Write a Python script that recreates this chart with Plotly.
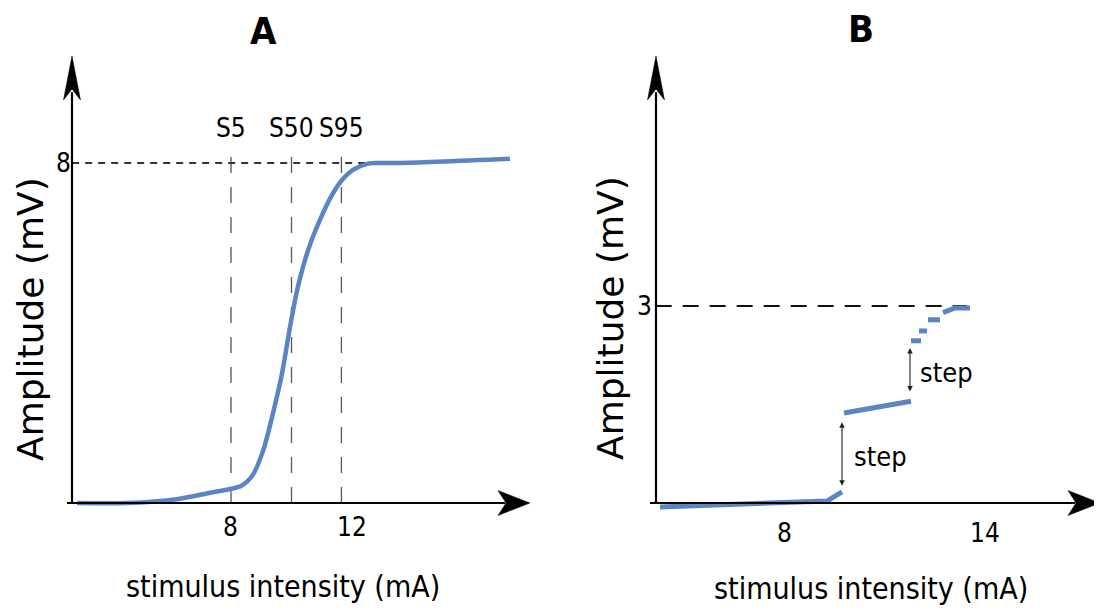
import plotly.graph_objects as go

# page is offset by the default 8px body margin
OFF = 8
W, H = 1102 - OFF, 610 - OFF

# ---------------- data ----------------
# Panel A: sigmoid recruitment curve
a_intensity = [2.91, 4.56, 6.21, 7.31, 7.97, 8.33, 8.72, 9.07, 9.39, 9.69, 9.95,
               10.21, 10.55, 10.94, 11.34, 11.67, 12.03, 12.50, 12.83, 13.59, 17.22]
a_amplitude = [0.0, 0.0, 0.09, 0.24, 0.33, 0.40, 0.66, 1.25, 2.12, 3.06, 4.14,
               5.08, 5.95, 6.66, 7.25, 7.60, 7.84, 7.98, 8.0, 8.0, 8.1]
a_markers = ["S5", "S50", "S95"]
a_marker_x = [8.0, 10.0, 11.65]
a_max = 8
a_xticks = [8, 12]

# Panel B: stepwise recruitment (segments separated by None)
b_intensity = [4.25, 9.26, 9.71, None,
               9.77, 11.78, None,
               11.78, 12.08, None,
               12.02, 12.26, None,
               12.29, 12.65, None,
               12.74, 13.10, 13.55]
b_amplitude = [-0.06, 0.03, 0.17, None,
               1.37, 1.55, None,
               2.47, 2.47, None,
               2.62, 2.62, None,
               2.79, 2.79, None,
               2.90, 2.97, 2.97]
b_max = 3
b_xticks = [8, 14]
b_steps_x = [9.71, 11.75]
b_steps_lo = [0.24, 1.675]
b_steps_hi = [1.23, 2.36]

# ---------------- geometry (page pixels) ----------------
A_X0PX, A_XSCALE = 231.0, 30.25   # px of x=8, px per unit
A_Y0PX, A_YSCALE = 503.0, 42.5    # px of y=0, px per unit
B_X0PX, B_XSCALE = 785.0, 200 / 6.0
B_Y0PX, B_YSCALE = 503.0, 197 / 3.0

A_XR = [2.75, 17.9]
A_YR = [-0.3, 10.5]
B_XR = [4.12, 17.45]
B_YR = [-0.2, 6.8]


def px(x):
    return (x - OFF) / W


def py(y):
    return 1 - (y - OFF) / H


def dom_x(x0px, scale, rng):
    return [px(x0px + (rng[0] - 8) * scale), px(x0px + (rng[1] - 8) * scale)]


def dom_y(y0px, scale, rng):
    return [py(y0px - rng[0] * scale), py(y0px - rng[1] * scale)]


BLUE = "#5A85C2"
FONT = "DejaVu Sans Condensed, DejaVu Sans, sans-serif"

fig = go.Figure()

# --- panel A reference lines ---
for xm in a_marker_x:
    fig.add_trace(go.Scatter(x=[xm, xm], y=[0, 8.42], mode="lines",
                             line=dict(color="#555555", width=1.3, dash="16px,14px"),
                             xaxis="x", yaxis="y", hoverinfo="skip", showlegend=False))
fig.add_trace(go.Scatter(x=[A_XR[0], 13.15], y=[a_max, a_max], mode="lines",
                         line=dict(color="#333333", width=1.8, dash="7px,6px"),
                         xaxis="x", yaxis="y", hoverinfo="skip", showlegend=False))
fig.add_trace(go.Scatter(x=a_intensity, y=a_amplitude, mode="lines",
                         line=dict(color=BLUE, width=4.5, shape="spline", smoothing=0.8),
                         xaxis="x", yaxis="y", showlegend=False))

# --- panel B ---
fig.add_trace(go.Scatter(x=[B_XR[0], 13.45], y=[b_max, b_max], mode="lines",
                         line=dict(color="#111111", width=2.2, dash="16px,11px"),
                         xaxis="x2", yaxis="y2", hoverinfo="skip", showlegend=False))
fig.add_trace(go.Scatter(x=b_intensity, y=b_amplitude, mode="lines", connectgaps=False,
                         line=dict(color=BLUE, width=5),
                         xaxis="x2", yaxis="y2", showlegend=False))

ax_common = dict(visible=False, fixedrange=True)
fig.update_layout(
    width=W, height=H, autosize=False,
    margin=dict(l=0, r=0, t=0, b=0),
    paper_bgcolor="white", plot_bgcolor="rgba(0,0,0,0)",
    xaxis=dict(domain=dom_x(A_X0PX, A_XSCALE, A_XR), range=A_XR, anchor="y", **ax_common),
    yaxis=dict(domain=dom_y(A_Y0PX, A_YSCALE, A_YR), range=A_YR, anchor="x", **ax_common),
    xaxis2=dict(domain=dom_x(B_X0PX, B_XSCALE, B_XR), range=B_XR, anchor="y2", **ax_common),
    yaxis2=dict(domain=dom_y(B_Y0PX, B_YSCALE, B_YR), range=B_YR, anchor="x2", **ax_common),
    showlegend=False,
)

# --- axis lines with arrowheads (paper coords from page pixels) ---
shapes = []


def line(x0, y0, x1, y1, w=2.2):
    shapes.append(dict(type="line", xref="paper", yref="paper",
                       x0=px(x0), y0=py(y0), x1=px(x1), y1=py(y1),
                       line=dict(color="black", width=w)))


def poly(pts):
    d = "M " + " L ".join(f"{px(a):.5f},{py(b):.5f}" for a, b in pts) + " Z"
    shapes.append(dict(type="path", xref="paper", yref="paper", path=d,
                       fillcolor="black", line=dict(color="black", width=0.5)))


# Panel A axes
line(67, 503, 505, 503)
poly([(530, 503), (498, 490.5), (506, 503), (498, 515.5)])
line(72, 503, 72, 92)
poly([(72, 56), (63.5, 100), (72, 89), (80.5, 100)])
# Panel B axes
line(650, 503, 1075, 503)
poly([(1100, 503), (1068, 490.5), (1076, 503), (1068, 515.5)])
line(656, 503, 656, 92)
poly([(656, 56), (647.5, 100), (656, 89), (664.5, 100)])

fig.update_layout(shapes=shapes)

ann = []
C = dict(xanchor="center", yanchor="middle", showarrow=False)


def txt(size, family=FONT):
    return dict(family=family, size=size, color="black")


# titles
ann.append(dict(text="<b>A</b>", xref="paper", yref="paper", x=px(263), y=py(31),
                font=txt(38), **C))
ann.append(dict(text="<b>B</b>", xref="paper", yref="paper", x=px(861), y=py(29),
                font=txt(38), **C))

# S labels
for name, xm in zip(a_markers, a_marker_x):
    ann.append(dict(text=name, xref="x", yref="paper", x=xm, y=py(128), font=txt(26), **C))

# tick labels
for t in a_xticks:
    ann.append(dict(text=str(t), xref="x", yref="paper", x=t, y=py(527), font=txt(26), **C))
for t in b_xticks:
    ann.append(dict(text=str(t), xref="x2", yref="paper", x=t, y=py(533), font=txt(26), **C))
ann.append(dict(text=str(a_max), xref="paper", yref="y", x=px(73), y=a_max,
                xanchor="right", yanchor="middle", showarrow=False, font=txt(26)))
ann.append(dict(text=str(b_max), xref="paper", yref="y2", x=px(654), y=b_max,
                xanchor="right", yanchor="middle", showarrow=False, font=txt(26)))

# axis titles
ann.append(dict(text="stimulus intensity (mA)", xref="paper", yref="paper",
                x=px(283), y=py(586), font=txt(30), **C))
ann.append(dict(text="stimulus intensity (mA)", xref="paper", yref="paper",
                x=px(871), y=py(588), font=txt(30), **C))
YF = txt(36, "DejaVu Sans, sans-serif")
ann.append(dict(text="Amplitude (mV)", xref="paper", yref="paper",
                x=px(30), y=py(319), textangle=-90, font=YF, **C))
ann.append(dict(text="Amplitude (mV)", xref="paper", yref="paper",
                x=px(610), y=py(318), textangle=-90, font=YF, **C))

# step arrows
for xs, lo, hi in zip(b_steps_x, b_steps_lo, b_steps_hi):
    ann.append(dict(text="", x=xs, y=hi, ax=xs, ay=lo, xref="x2", yref="y2",
                    axref="x2", ayref="y2", showarrow=True, arrowhead=2,
                    arrowside="end+start", arrowsize=1, arrowwidth=1.1,
                    arrowcolor="#222222", standoff=0, startstandoff=0))
ann.append(dict(text="step", xref="paper", yref="paper", x=px(880), y=py(457),
                font=txt(27), **C))
ann.append(dict(text="step", xref="paper", yref="paper", x=px(946), y=py(372),
                font=txt(27), **C))

fig.update_layout(annotations=ann)

fig.write_html("out.html")
